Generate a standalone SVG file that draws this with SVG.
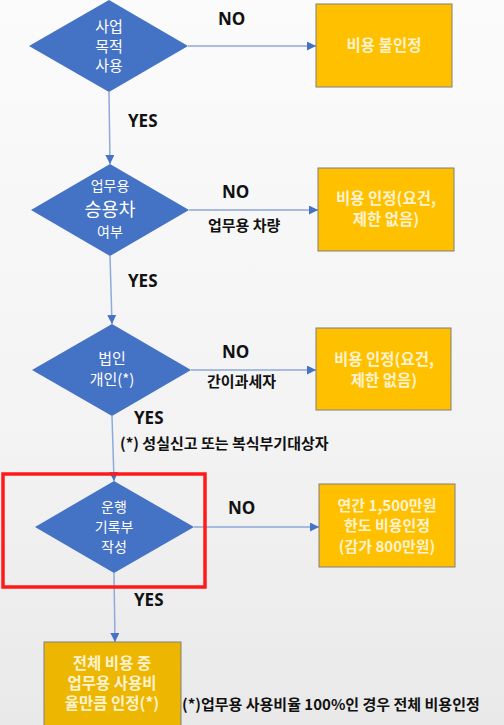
<svg xmlns="http://www.w3.org/2000/svg" width="504" height="725" viewBox="0 0 504 725">
<defs>
<linearGradient id="bg" x1="0" y1="0" x2="0" y2="1">
<stop offset="0" stop-color="#FBFBFB"/>
<stop offset="0.6" stop-color="#F3F3F3"/>
<stop offset="1" stop-color="#E9E9E9"/>
</linearGradient>
<marker id="ah" viewBox="0 0 10 10" refX="10" refY="5" markerWidth="9" markerHeight="9" markerUnits="userSpaceOnUse" orient="auto">
<path d="M0,0 L10,5 L0,10 z" fill="#4472C4"/>
</marker>
<style>
.dia{fill:#4472C4;}
.dt{fill:#FFFFFF;font-family:"Noto Sans CJK KR","Noto Sans",sans-serif;font-size:15px;text-anchor:middle;}
.box{fill:#FFC000;stroke:#7F7F7F;stroke-width:1;}
.bt{fill:#FFF3CF;font-family:"Noto Sans CJK KR","Noto Sans",sans-serif;font-size:15.5px;font-weight:bold;text-anchor:middle;}
.lbl{fill:#111111;font-family:"Open Sans","Noto Sans",sans-serif;font-size:17px;font-weight:bold;}
.note{fill:#111111;font-family:"Noto Sans CJK KR","Noto Sans",sans-serif;font-size:15px;font-weight:bold;}
.con{stroke:#8EA9DB;stroke-width:1.5;fill:none;marker-end:url(#ah);}
</style>
</defs>
<rect x="0" y="0" width="504" height="725" fill="url(#bg)"/>

<g id="connectors">
<line class="con" x1="188" y1="46" x2="316" y2="46"/>
<line class="con" x1="109" y1="92" x2="110" y2="164"/>
<line class="con" x1="189" y1="210" x2="318" y2="210"/>
<line class="con" x1="110" y1="256" x2="112" y2="324"/>
<line class="con" x1="191" y1="370" x2="316" y2="370"/>
<line class="con" x1="112" y1="416" x2="114" y2="481"/>
<line class="con" x1="194" y1="527" x2="319" y2="527"/>
<line class="con" x1="114" y1="573" x2="115" y2="642"/>
</g>

<g id="decision1">
<polygon class="dia" points="109,0 188,46 109,92 29,46"/>
<text class="dt" x="109" y="32">사업</text>
<text class="dt" x="109" y="52">목적</text>
<text class="dt" x="109" y="71">사용</text>
</g>
<g id="result1">
<rect class="box" x="316" y="4" width="136" height="83"/>
<text class="bt" x="384" y="51">비용 불인정</text>
</g>
<text class="lbl" x="218" y="25">NO</text>
<text class="lbl" x="128" y="127">YES</text>

<g id="decision2">
<polygon class="dia" points="110,164 189,210 110,256 31,210"/>
<text class="dt" x="110" y="191" style="font-size:14px">업무용</text>
<text class="dt" x="110" y="216" style="font-size:18.5px">승용차</text>
<text class="dt" x="110" y="237" style="font-size:14px">여부</text>
</g>
<g id="result2">
<rect class="box" x="318" y="168" width="136" height="83"/>
<text class="bt" x="386" y="204">비용 인정(요건,</text>
<text class="bt" x="386" y="225">제한 없음)</text>
</g>
<text class="lbl" x="222" y="198">NO</text>
<text class="note" x="208" y="231">업무용 차량</text>
<text class="lbl" x="128" y="287">YES</text>

<g id="decision3">
<polygon class="dia" points="112,324 191,370 112,416 32,370"/>
<text class="dt" x="112" y="364">법인</text>
<text class="dt" x="112" y="385">개인(*)</text>
</g>
<g id="result3">
<rect class="box" x="316" y="328" width="135" height="82"/>
<text class="bt" x="384" y="365">비용 인정(요건,</text>
<text class="bt" x="384" y="386">제한 없음)</text>
</g>
<text class="lbl" x="222" y="358">NO</text>
<text class="note" x="207" y="387">간이과세자</text>
<text class="lbl" x="134" y="424">YES</text>
<text class="note" x="120" y="449">(*) 성실신고 또는 복식부기대상자</text>

<g id="decision4">
<polygon class="dia" points="114,481 194,527 114,573 35,527"/>
<text class="dt" x="114" y="512" style="font-size:14px">운행</text>
<text class="dt" x="114" y="532" style="font-size:14px">기록부</text>
<text class="dt" x="114" y="552" style="font-size:14px">작성</text>
</g>
<rect id="highlight" x="3" y="474" width="202" height="113" fill="none" stroke="#FF1A1A" stroke-width="3.5"/>
<g id="result4">
<rect class="box" x="319" y="484" width="136" height="83"/>
<text class="bt" x="387" y="511" style="font-size:15px">연간 1,500만원</text>
<text class="bt" x="387" y="531" style="font-size:15px">한도 비용인정</text>
<text class="bt" x="387" y="552" style="font-size:15px">(감가 800만원)</text>
</g>
<text class="lbl" x="228" y="514">NO</text>
<text class="lbl" x="134" y="606">YES</text>

<g id="result5">
<rect class="box" x="44" y="642" width="137" height="90" style="fill:#EDB600"/>
<text class="bt" x="112" y="669">전체 비용 중</text>
<text class="bt" x="112" y="689">업무용 사용비</text>
<text class="bt" x="112" y="709">율만큼 인정(*)</text>
</g>
<text class="note" x="182" y="710">(*)업무용 사용비율 100%인 경우 전체 비용인정</text>
</svg>
